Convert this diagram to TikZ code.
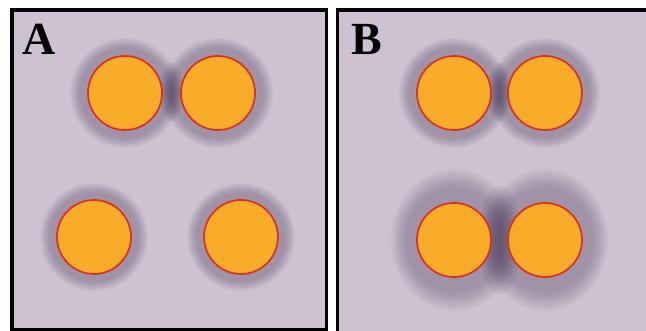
\documentclass[tikz,border=0pt]{standalone}
\usepackage{fontspec}
\newfontfamily\labfont{Liberation Serif}
\definecolor{bgc}{RGB}{206,193,209}
\definecolor{halocol}{RGB}{88,72,104}
\definecolor{ballfill}{RGB}{248,172,42}
\definecolor{ballline}{RGB}{226,46,30}
\newcommand\myhalo[7]{% x, y, rx0, ry0, extra x, extra y, opacity
  \foreach \k in {0,...,9}{%
    \fill[halocol, fill opacity=#7] (#1,#2) ellipse [x radius={#3+(0.45+0.55*\k/9)*#5}, y radius={#4+(0.45+0.55*\k/9)*#6}];
  }%
}
\newcommand\mygap[7]{% soft dark spot between two balls
  \foreach \k in {0,...,9}{%
    \fill[halocol, fill opacity=#7] (#1,#2) ellipse [x radius={#3+\k*#5/9}, y radius={#4+\k*#6/9}];
  }%
}
\tikzset{
  ball/.style={circle, minimum size=74pt, inner sep=0pt, fill=ballfill, draw=ballline, line width=1.7pt},
  frame/.style={draw=black, line width=3.5pt},
  panellabel/.style={inner sep=0pt, font=\labfont\bfseries\fontsize{46}{46}\selectfont}
}
\begin{document}
\begin{tikzpicture}[x=1pt,y=-1pt]
\useasboundingbox (0,0) rectangle (646,331);
\clip (0,0) rectangle (646,331);
\fill[white] (0,0) rectangle (646,331);
% panel backgrounds
\fill[bgc] (12,10) rectangle (326.5,329.5);
\fill[bgc] (337.5,10) rectangle (652,337);
% halos panel A
\myhalo{125}{93}{37}{37}{18}{18}{0.045}
\myhalo{218}{93}{37}{37}{18}{18}{0.045}
\myhalo{94}{237}{37}{37}{17}{17}{0.045}
\myhalo{241}{237}{37}{37}{17}{17}{0.045}
\mygap{171.5}{92}{2}{8}{10}{22}{0.08}
% halos panel B
\myhalo{454}{93}{37}{37}{18}{18}{0.045}
\myhalo{545}{93}{37}{37}{18}{18}{0.045}
\mygap{499.5}{92}{2}{8}{10}{22}{0.08}
\myhalo{454}{240}{37}{37}{26}{34}{0.045}
\myhalo{545}{240}{37}{37}{26}{34}{0.045}
\mygap{499.5}{240}{4}{20}{18}{34}{0.075}
% balls
\node[ball] (a1) at (125,93) {};
\node[ball] (a2) at (218,93) {};
\node[ball] (a3) at (94,237) {};
\node[ball] (a4) at (241,237) {};
\node[ball] (b1) at (454,93) {};
\node[ball] (b2) at (545,93) {};
\node[ball] (b3) at (454,240) {};
\node[ball] (b4) at (545,240) {};
% frames
\draw[frame] (12,10) rectangle (326.5,329.5);
\draw[frame] (337.5,10) rectangle (652,337);
% labels
\node[panellabel] (la) at (39,39.5) {A};
\node[panellabel] (lb) at (367,39.5) {B};
\end{tikzpicture}
\end{document}
